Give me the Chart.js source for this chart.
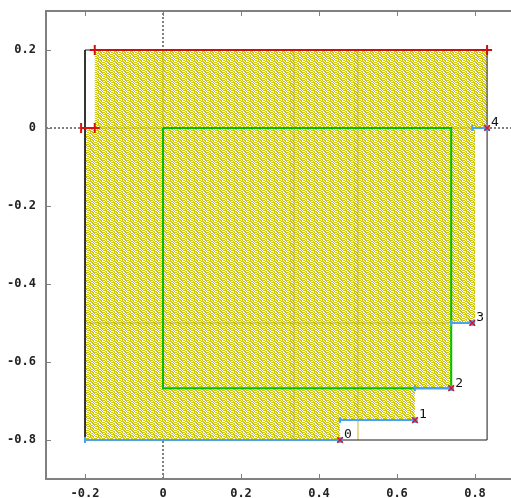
<!DOCTYPE html>
<html><head><meta charset="utf-8">
<script src="https://cdn.jsdelivr.net/npm/chart.js@4/dist/chart.umd.min.js"></script>
<style>html,body{margin:0;padding:0;overflow:hidden;background:#fff}#wrap{width:511px;height:498px;overflow:hidden}canvas{display:block}</style>
</head><body><div id="wrap"><canvas id="c" width="525" height="498"></canvas></div>
<script>
// ---- data ----
const xTicks = [-0.2, 0, 0.2, 0.4, 0.6, 0.8];
const yTicks = [-0.8, -0.6, -0.4, -0.2, 0, 0.2];
const pointLabels = ['0', '1', '2', '3', '4'];
const pointX = [0.454, 0.646, 0.739, 0.793, 0.831];
const pointY = [-0.8, -0.749, -0.667, -0.5, 0];
const stepStartX = [-0.2, 0.454, 0.646, 0.739, 0.793];
const regionX = [-0.2, -0.175, -0.175, 0.831, 0.831, 0.8, 0.8, 0.739, 0.739, 0.646, 0.646, 0.454, 0.454, -0.2, -0.2];
const regionY = [0, 0, 0.2, 0.2, 0, 0, -0.5, -0.5, -0.667, -0.667, -0.749, -0.749, -0.8, -0.8, 0];
const boxX = [-0.2, 0.831, 0.831, -0.2, -0.2];
const boxY = [-0.8, -0.8, 0.2, 0.2, -0.8];
const greenX = [0, 0.739, 0.739, 0, 0];
const greenY = [0, 0, -0.667, -0.667, 0];
const redTopX = [-0.175, 0.831];
const redTopY = [0.2, 0.2];
const redLeftX = [-0.21, -0.175];
const redLeftY = [0, 0];
const oliveVX = [0, 0.336, 0.5];
const oliveVY0 = [0, -0.8, -0.8];
const oliveVY1 = [0.2, 0.2, 0.2];
const oliveHY = [0, -0.5];
const oliveHX0 = [-0.2, -0.2];
const oliveHX1 = [0.8, 0.8];
const xRange = [-0.3, 0.9];
const yRange = [-0.9, 0.3];

const zip = (xs, ys) => xs.map((x, i) => ({x, y: ys[i]}));
const FONT = 'DejaVu Sans Mono';
const BLUE = '#4aa3f0';

// dotted texture for the point cloud (fixed 8x8 mask, styling only)
const MASK = [
  '10100111',
  '01011010',
  '11100101',
  '00111010',
  '10101101',
  '01110100',
  '10011011',
  '01101100'
];
function cloudPattern() {
  const c = document.createElement('canvas');
  c.width = 8; c.height = 8;
  const g = c.getContext('2d');
  g.fillStyle = '#fff'; g.fillRect(0, 0, 8, 8);
  g.fillStyle = 'rgb(204,196,10)';
  MASK.forEach((row, j) => [...row].forEach((ch, i) => { if (ch === '1') g.fillRect(i, j, 1, 1); }));
  return g.createPattern(c, 'repeat');
}

const datasets = [];
datasets.push({data: [{x: 0, y: yRange[0]}, {x: 0, y: yRange[1]}], borderColor: '#000', borderWidth: 1, borderDash: [2, 2], order: 20});
datasets.push({data: [{x: xRange[0], y: 0}, {x: xRange[1], y: 0}], borderColor: '#000', borderWidth: 1, borderDash: [2, 2], order: 20});
datasets.push({data: zip(regionX, regionY), borderWidth: 0, borderColor: 'rgba(0,0,0,0)', backgroundColor: cloudPattern(), fill: 'shape', order: 19});
oliveVX.forEach((x, i) => datasets.push({data: [{x, y: oliveVY0[i]}, {x, y: oliveVY1[i]}], borderColor: 'rgba(180,170,0,0.8)', borderWidth: 1, order: 18}));
oliveHY.forEach((y, i) => datasets.push({data: [{x: oliveHX0[i], y}, {x: oliveHX1[i], y}], borderColor: 'rgba(180,170,0,0.8)', borderWidth: 1, order: 18}));
datasets.push({data: zip(boxX, boxY), borderColor: '#1a1a1a', borderWidth: 1, order: 17});
datasets.push({data: zip(greenX, greenY), borderColor: '#00c000', borderWidth: 2, order: 16});
datasets.push({data: zip(redTopX, redTopY), borderColor: '#cc1010', borderWidth: 2, pointStyle: 'cross', pointRadius: 5, pointBorderWidth: 2, pointBorderColor: '#cc1010', order: 15});
datasets.push({data: zip(redLeftX, redLeftY), borderColor: '#dd1010', borderWidth: 2, pointStyle: ['line', 'cross'], pointRotation: [90, 0], pointRadius: 5, pointBorderWidth: 2, pointBorderColor: '#dd1010', order: 15});
pointX.forEach((x, i) => datasets.push({data: [{x: stepStartX[i], y: pointY[i]}, {x, y: pointY[i]}], borderColor: BLUE, borderWidth: 2, pointStyle: ['line', false], pointRotation: [90, 0], pointRadius: [3, 0], pointBorderWidth: 2, pointBorderColor: BLUE, order: 14}));
datasets.push({data: zip(pointX, pointY), showLine: false, pointStyle: 'rect', pointRadius: 4, backgroundColor: BLUE, pointBackgroundColor: BLUE, pointBorderColor: BLUE, pointBorderWidth: 0, order: 13});
datasets.push({data: zip(pointX, pointY), showLine: false, pointStyle: 'crossRot', pointRadius: 4, pointBorderColor: '#e01020', pointBorderWidth: 1.5, order: 12});

datasets.forEach(d => {
  if (d.showLine === undefined) d.showLine = true;
  if (d.pointRadius === undefined) d.pointRadius = 0;
  if (d.fill === undefined) d.fill = false;
  d.tension = 0;
});

const frameAndTicks = {
  id: 'frameAndTicks',
  afterDatasetsDraw(chart) {
    const {ctx, chartArea: a, scales: {x, y}} = chart;
    ctx.save();
    ctx.strokeStyle = '#808080';
    ctx.lineWidth = 2;
    ctx.beginPath();
    ctx.moveTo(a.right + 10, a.top); ctx.lineTo(a.left, a.top); ctx.lineTo(a.left, a.bottom); ctx.lineTo(a.right + 10, a.bottom);
    ctx.stroke();
    ctx.lineWidth = 1;
    ctx.beginPath();
    xTicks.forEach(v => {
      const px = Math.round(x.getPixelForValue(v)) + 0.5;
      ctx.moveTo(px, a.top); ctx.lineTo(px, a.top + 5);
      ctx.moveTo(px, a.bottom); ctx.lineTo(px, a.bottom - 5);
    });
    yTicks.forEach(v => {
      const py = Math.round(y.getPixelForValue(v)) + 0.5;
      ctx.moveTo(a.left, py); ctx.lineTo(a.left + 5, py);
    });
    ctx.stroke();
    ctx.fillStyle = '#111';
    ctx.font = '13px "' + FONT + '"';
    ctx.textAlign = 'left';
    ctx.textBaseline = 'middle';
    pointLabels.forEach((t, i) => {
      ctx.fillText(t, x.getPixelForValue(pointX[i]) + 4, y.getPixelForValue(pointY[i]) - 5);
    });
    ctx.restore();
  }
};

const fmt = v => {
  const r = Math.round(v * 10) / 10;
  return r === 0 ? '0' : r.toFixed(1);
};

new Chart(document.getElementById('c'), {
  type: 'scatter',
  data: {datasets},
  options: {
    responsive: false,
    animation: false,
    devicePixelRatio: 1,
    layout: {padding: {top: 11, right: 11, left: 0, bottom: 0}},
    plugins: {legend: {display: false}, tooltip: {enabled: false}},
    scales: {
      x: {
        type: 'linear', min: xRange[0], max: xRange[1],
        afterBuildTicks: s => { s.ticks = xTicks.map(v => ({value: v})); },
        afterFit: s => { s.height = 19; s.paddingLeft = 0; s.paddingRight = 0; },
        grid: {display: false, drawTicks: false},
        border: {display: false},
        ticks: {padding: 8, color: '#222', font: {family: FONT, size: 12, weight: 'bold'}, callback: v => fmt(v), maxRotation: 0, autoSkip: false}
      },
      y: {
        type: 'linear', min: yRange[0], max: yRange[1],
        afterBuildTicks: s => { s.ticks = yTicks.map(v => ({value: v})); },
        afterFit: s => { s.width = 46; s.paddingTop = 0; s.paddingBottom = 0; },
        grid: {display: false, drawTicks: false},
        border: {display: false},
        ticks: {padding: 10, color: '#222', font: {family: FONT, size: 12, weight: 'bold'}, callback: v => fmt(v), autoSkip: false}
      }
    }
  },
  plugins: [frameAndTicks]
});
</script>
</body></html>
